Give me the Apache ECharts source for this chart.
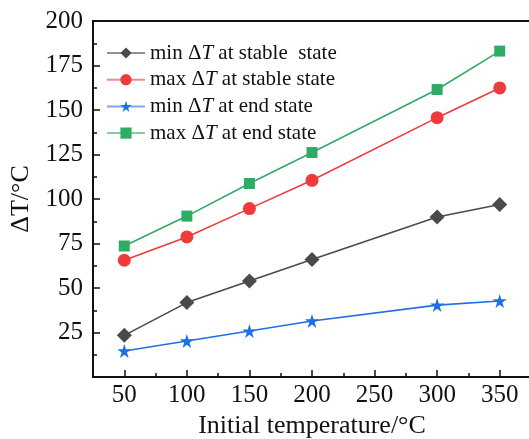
<!DOCTYPE html>
<html><head><meta charset="utf-8">
<script src="https://cdn.jsdelivr.net/npm/echarts@6/dist/echarts.min.js"></script>
<style>html,body{margin:0;padding:0;background:#fff}#c{width:529px;height:439px}</style>
</head><body><div id="c"></div>
<script>
const temps = [50, 100, 150, 200, 300, 350];
const minStable = [23.4, 41.8, 53.9, 66.0, 89.9, 96.9];
const maxStable = [65.6, 78.7, 94.6, 110.5, 145.7, 162.4];
const minEnd = [14.6, 20.2, 25.8, 31.5, 40.4, 42.7];
const maxEnd = [73.6, 90.4, 108.7, 126.1, 161.5, 183.1];
const xMajor = [50, 100, 150, 200, 250, 300, 350];
const xMinor = [75, 125, 175, 225, 275, 325, 375];
const seriesNames = ['minStable', 'maxStable', 'minEnd', 'maxEnd'];
const legendLabels = {
  minStable: ['min Δ', 'T', ' at stable  state'],
  maxStable: ['max Δ', 'T', ' at stable state'],
  minEnd: ['min Δ', 'T', ' at end state'],
  maxEnd: ['max Δ', 'T', ' at end state']
};
const FONT = '"Liberation Serif","Times New Roman",serif';
const pairs = a => temps.map((t, i) => [t, a[i]]);

const chart = echarts.init(document.getElementById('c'), null, {renderer: 'canvas'});
const mk = (name, data, color, symbol, size) => ({
  name, type: 'line', data: pairs(data), xAxisIndex: 0, yAxisIndex: 0,
  symbol, symbolSize: size, showSymbol: true,
  lineStyle: {color, width: 1.6}, itemStyle: {color}, z: 3
});
chart.setOption({
  animation: false,
  backgroundColor: '#fff',
  grid: {left: 93, top: 21, right: -2, bottom: 62, containLabel: false, outerBoundsMode: 'none'},
  legend: {
    left: 101, top: 37, orient: 'vertical',
    itemWidth: 38, itemHeight: 14, itemGap: 4.7,
    data: seriesNames,
    lineStyle: {opacity: 0.6},
    formatter: n => '{n|' + legendLabels[n][0] + '}{i|' + legendLabels[n][1] + '}{n|' + legendLabels[n][2] + '}',
    textStyle: {
      fontFamily: FONT, fontSize: 21, color: '#111', lineHeight: 22,
      rich: {
        n: {fontFamily: FONT, fontSize: 21, color: '#111', lineHeight: 22},
        i: {fontFamily: FONT, fontSize: 21, color: '#111', fontStyle: 'italic', lineHeight: 22}
      }
    }
  },
  xAxis: [{
    type: 'value', min: 25, max: 375, position: 'bottom',
    name: 'Initial temperature/°C', nameLocation: 'middle', nameGap: 36,
    nameTextStyle: {fontFamily: FONT, fontSize: 26, color: '#111'},
    axisLine: {show: true, lineStyle: {color: '#111', width: 2}},
    axisTick: {show: true, inside: true, length: 7, lineStyle: {color: '#111', width: 1.5}, customValues: xMajor},
    axisLabel: {show: true, fontFamily: FONT, fontSize: 25, color: '#111', margin: 6, customValues: [50, 100, 150, 200, 250, 300, 350]},
    splitLine: {show: false}
  }, {
    type: 'value', min: 25, max: 375, position: 'bottom',
    axisLine: {show: false},
    axisTick: {show: true, inside: true, length: 4, lineStyle: {color: '#111', width: 1.5}, customValues: xMinor},
    axisLabel: {show: false}, splitLine: {show: false}
  }, {
    type: 'value', min: 25, max: 375, position: 'top',
    axisLine: {show: true, lineStyle: {color: '#111', width: 2}},
    axisTick: {show: false}, axisLabel: {show: false}, splitLine: {show: false}
  }],
  yAxis: [{
    type: 'value', min: 0, max: 200, interval: 25,
    name: 'ΔT/°C', nameLocation: 'middle', nameGap: 48, nameRotate: 90,
    nameTextStyle: {fontFamily: FONT, fontSize: 26, color: '#111'},
    axisLine: {show: true, lineStyle: {color: '#111', width: 2}},
    axisTick: {show: true, inside: true, length: 7, lineStyle: {color: '#111', width: 1.5}},
    minorTick: {show: true, splitNumber: 2, length: 4, lineStyle: {color: '#111', width: 1.5}},
    axisLabel: {fontFamily: FONT, fontSize: 25, color: '#111', margin: 10, formatter: v => v === 0 ? '' : String(v)},
    splitLine: {show: false}, minorSplitLine: {show: false}
  }],
  series: [
    mk('minStable', minStable, '#4a4a4a', 'diamond', 15),
    mk('maxStable', maxStable, '#ef3b3b', 'circle', 13),
    mk('minEnd', minEnd, '#1f6fe6', 'path://M50,0 L61.8,35.4 L100,35.4 L69.1,57.3 L80.9,93.3 L50,71.1 L19.1,93.3 L30.9,57.3 L0,35.4 L38.2,35.4 Z', 14),
    mk('maxEnd', maxEnd, '#2fac64', 'rect', 11)
  ]
});
</script></body></html>
